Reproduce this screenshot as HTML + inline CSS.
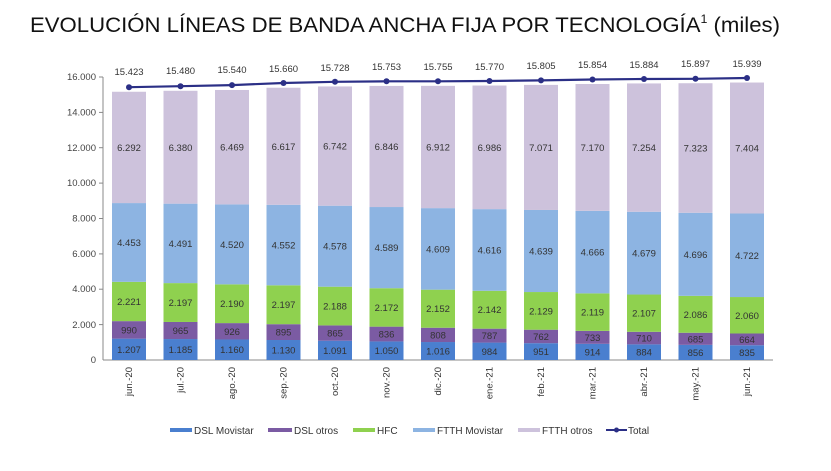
<!DOCTYPE html>
<html><head><meta charset="utf-8"><style>
body{margin:0;background:#fff;}
svg{display:block;font-family:"Liberation Sans",Arial,sans-serif;}
</style></head><body>
<svg width="831" height="471" viewBox="0 0 831 471" xmlns="http://www.w3.org/2000/svg">
<text x="30" y="32" font-size="21.5" fill="#111" textLength="750" lengthAdjust="spacingAndGlyphs">EVOLUCIÓN LÍNEAS DE BANDA ANCHA FIJA POR TECNOLOGÍA<tspan font-size="12" dy="-9">1</tspan><tspan dy="9"> (miles)</tspan></text>
<g font-size="9.5" fill="#444" text-anchor="end">
<text x="96" y="80">16.000</text><text x="96" y="115.5">14.000</text><text x="96" y="151">12.000</text><text x="96" y="186">10.000</text><text x="96" y="221.5">8.000</text><text x="96" y="257">6.000</text><text x="96" y="292">4.000</text><text x="96" y="328">2.000</text><text x="96" y="363">0</text>
</g>
<g stroke="#888" stroke-width="1">
<line x1="103" y1="77" x2="103" y2="360"/><line x1="103" y1="360" x2="773" y2="360"/>
<line x1="99" y1="77" x2="103" y2="77"/><line x1="99" y1="112.4" x2="103" y2="112.4"/><line x1="99" y1="147.7" x2="103" y2="147.7"/><line x1="99" y1="183.1" x2="103" y2="183.1"/><line x1="99" y1="218.5" x2="103" y2="218.5"/><line x1="99" y1="253.9" x2="103" y2="253.9"/><line x1="99" y1="289.2" x2="103" y2="289.2"/><line x1="99" y1="324.6" x2="103" y2="324.6"/>
</g>
<g transform="translate(0,360) scale(1,-0.01769)">
<g fill="#4a7fcf">
<rect x="112" y="0" width="34" height="1207"/><rect x="163.5" y="0" width="34" height="1185"/><rect x="215" y="0" width="34" height="1160"/><rect x="266.5" y="0" width="34" height="1130"/><rect x="318" y="0" width="34" height="1091"/><rect x="369.5" y="0" width="34" height="1050"/><rect x="421" y="0" width="34" height="1016"/><rect x="472.5" y="0" width="34" height="984"/><rect x="524" y="0" width="34" height="951"/><rect x="575.5" y="0" width="34" height="914"/><rect x="627" y="0" width="34" height="884"/><rect x="678.5" y="0" width="34" height="856"/><rect x="730" y="0" width="34" height="835"/>
</g>
<g fill="#7b5ba3">
<rect x="112" y="1207" width="34" height="990"/><rect x="163.5" y="1185" width="34" height="965"/><rect x="215" y="1160" width="34" height="926"/><rect x="266.5" y="1130" width="34" height="895"/><rect x="318" y="1091" width="34" height="865"/><rect x="369.5" y="1050" width="34" height="836"/><rect x="421" y="1016" width="34" height="808"/><rect x="472.5" y="984" width="34" height="787"/><rect x="524" y="951" width="34" height="762"/><rect x="575.5" y="914" width="34" height="733"/><rect x="627" y="884" width="34" height="710"/><rect x="678.5" y="856" width="34" height="685"/><rect x="730" y="835" width="34" height="664"/>
</g>
<g fill="#8fd14f">
<rect x="112" y="2197" width="34" height="2221"/><rect x="163.5" y="2150" width="34" height="2197"/><rect x="215" y="2086" width="34" height="2190"/><rect x="266.5" y="2025" width="34" height="2197"/><rect x="318" y="1956" width="34" height="2188"/><rect x="369.5" y="1886" width="34" height="2172"/><rect x="421" y="1824" width="34" height="2152"/><rect x="472.5" y="1771" width="34" height="2142"/><rect x="524" y="1713" width="34" height="2129"/><rect x="575.5" y="1647" width="34" height="2119"/><rect x="627" y="1594" width="34" height="2107"/><rect x="678.5" y="1541" width="34" height="2086"/><rect x="730" y="1499" width="34" height="2060"/>
</g>
<g fill="#8db4e2">
<rect x="112" y="4418" width="34" height="4453"/><rect x="163.5" y="4347" width="34" height="4491"/><rect x="215" y="4276" width="34" height="4520"/><rect x="266.5" y="4222" width="34" height="4552"/><rect x="318" y="4144" width="34" height="4578"/><rect x="369.5" y="4058" width="34" height="4589"/><rect x="421" y="3976" width="34" height="4609"/><rect x="472.5" y="3913" width="34" height="4616"/><rect x="524" y="3842" width="34" height="4639"/><rect x="575.5" y="3766" width="34" height="4666"/><rect x="627" y="3701" width="34" height="4679"/><rect x="678.5" y="3627" width="34" height="4696"/><rect x="730" y="3559" width="34" height="4722"/>
</g>
<g fill="#cdc2dc">
<rect x="112" y="8871" width="34" height="6292"/><rect x="163.5" y="8838" width="34" height="6380"/><rect x="215" y="8796" width="34" height="6469"/><rect x="266.5" y="8774" width="34" height="6617"/><rect x="318" y="8722" width="34" height="6742"/><rect x="369.5" y="8647" width="34" height="6846"/><rect x="421" y="8585" width="34" height="6912"/><rect x="472.5" y="8529" width="34" height="6986"/><rect x="524" y="8481" width="34" height="7071"/><rect x="575.5" y="8432" width="34" height="7170"/><rect x="627" y="8380" width="34" height="7254"/><rect x="678.5" y="8323" width="34" height="7323"/><rect x="730" y="8281" width="34" height="7404"/>
</g>
</g>
<g font-size="9.5" fill="#333" text-anchor="middle">
<text x="129" y="352.8">1.207</text><text x="129" y="333.4">990</text><text x="129" y="305">2.221</text><text x="129" y="246">4.453</text><text x="129" y="151">6.292</text>
<text x="180.5" y="353">1.185</text><text x="180.5" y="334">965</text><text x="180.5" y="306">2.197</text><text x="180.5" y="247">4.491</text><text x="180.5" y="151">6.380</text>
<text x="232" y="353.2">1.160</text><text x="232" y="334.8">926</text><text x="232" y="307.2">2.190</text><text x="232" y="248">4.520</text><text x="232" y="150.7">6.469</text>
<text x="283.5" y="353.5">1.130</text><text x="283.5" y="335.6">895</text><text x="283.5" y="308.2">2.197</text><text x="283.5" y="248.5">4.552</text><text x="283.5" y="149.8">6.617</text>
<text x="335" y="353.9">1.091</text><text x="335" y="336.5">865</text><text x="335" y="309.5">2.188</text><text x="335" y="249.7">4.578</text><text x="335" y="149.6">6.742</text>
<text x="386.5" y="354.2">1.050</text><text x="386.5" y="337.5">836</text><text x="386.5" y="310.9">2.172</text><text x="386.5" y="251.1">4.589</text><text x="386.5" y="150">6.846</text>
<text x="438" y="354.5">1.016</text><text x="438" y="338.4">808</text><text x="438" y="312.2">2.152</text><text x="438" y="252.4">4.609</text><text x="438" y="150.5">6.912</text>
<text x="489.5" y="354.8">984</text><text x="489.5" y="339.1">787</text><text x="489.5" y="313.2">2.142</text><text x="489.5" y="253.5">4.616</text><text x="489.5" y="150.8">6.986</text>
<text x="541" y="355.1">951</text><text x="541" y="339.9">762</text><text x="541" y="314.4">2.129</text><text x="541" y="254.5">4.639</text><text x="541" y="150.9">7.071</text>
<text x="592.5" y="355.4">914</text><text x="592.5" y="340.9">733</text><text x="592.5" y="315.6">2.119</text><text x="592.5" y="255.6">4.666</text><text x="592.5" y="150.9">7.170</text>
<text x="644" y="355.7">884</text><text x="644" y="341.6">710</text><text x="644" y="316.7">2.107</text><text x="644" y="256.6">4.679</text><text x="644" y="151.1">7.254</text>
<text x="695.5" y="355.9">856</text><text x="695.5" y="342.3">685</text><text x="695.5" y="317.8">2.086</text><text x="695.5" y="257.8">4.696</text><text x="695.5" y="151.5">7.323</text>
<text x="747" y="356.1">835</text><text x="747" y="342.9">664</text><text x="747" y="318.8">2.060</text><text x="747" y="258.8">4.722</text><text x="747" y="151.5">7.404</text>
</g>
<polyline fill="none" stroke="#2b2f86" stroke-width="2.2" points="129,87.2 180.5,86.2 232,85.1 283.5,83 335,81.8 386.5,81.3 438,81.3 489.5,81 541,80.4 592.5,79.5 644,79 695.5,78.8 747,78"/>
<g fill="#2b2f86">
<circle cx="129" cy="87.2" r="3"/><circle cx="180.5" cy="86.2" r="3"/><circle cx="232" cy="85.1" r="3"/><circle cx="283.5" cy="83" r="3"/><circle cx="335" cy="81.8" r="3"/><circle cx="386.5" cy="81.3" r="3"/><circle cx="438" cy="81.3" r="3"/><circle cx="489.5" cy="81" r="3"/><circle cx="541" cy="80.4" r="3"/><circle cx="592.5" cy="79.5" r="3"/><circle cx="644" cy="79" r="3"/><circle cx="695.5" cy="78.8" r="3"/><circle cx="747" cy="78" r="3"/>
</g>
<g font-size="9.5" fill="#333" text-anchor="middle">
<text x="129" y="75">15.423</text><text x="180.5" y="74">15.480</text><text x="232" y="73">15.540</text><text x="283.5" y="72">15.660</text><text x="335" y="71">15.728</text><text x="386.5" y="70">15.753</text><text x="438" y="70">15.755</text><text x="489.5" y="70">15.770</text><text x="541" y="69">15.805</text><text x="592.5" y="68">15.854</text><text x="644" y="68">15.884</text><text x="695.5" y="67">15.897</text><text x="747" y="67">15.939</text>
</g>
<g font-size="9.5" fill="#333" text-anchor="end">
<text transform="translate(132,367) rotate(-90)">jun.-20</text>
<text transform="translate(183.5,367) rotate(-90)">jul.-20</text>
<text transform="translate(235,367) rotate(-90)">ago.-20</text>
<text transform="translate(286.5,367) rotate(-90)">sep.-20</text>
<text transform="translate(338,367) rotate(-90)">oct.-20</text>
<text transform="translate(389.5,367) rotate(-90)">nov.-20</text>
<text transform="translate(441,367) rotate(-90)">dic.-20</text>
<text transform="translate(492.5,367) rotate(-90)">ene.-21</text>
<text transform="translate(544,367) rotate(-90)">feb.-21</text>
<text transform="translate(595.5,367) rotate(-90)">mar.-21</text>
<text transform="translate(647,367) rotate(-90)">abr.-21</text>
<text transform="translate(698.5,367) rotate(-90)">may.-21</text>
<text transform="translate(750,367) rotate(-90)">jun.-21</text>
</g>
<g font-size="10" fill="#333">
<rect x="170" y="428" width="22" height="4" fill="#4a7fcf"/><text x="194" y="434">DSL Movistar</text>
<rect x="268" y="428" width="24" height="4" fill="#7b5ba3"/><text x="294" y="434">DSL otros</text>
<rect x="353" y="428" width="22" height="4" fill="#8fd14f"/><text x="377" y="434">HFC</text>
<rect x="413" y="428" width="22" height="4" fill="#8db4e2"/><text x="437" y="434">FTTH Movistar</text>
<rect x="518" y="428" width="22" height="4" fill="#cdc2dc"/><text x="542" y="434">FTTH otros</text>
<line x1="606" y1="430" x2="627" y2="430" stroke="#2b2f86" stroke-width="2"/><circle cx="616.5" cy="430" r="2.5" fill="#2b2f86"/><text x="628" y="434">Total</text>
</g>
</svg>
</body></html>
